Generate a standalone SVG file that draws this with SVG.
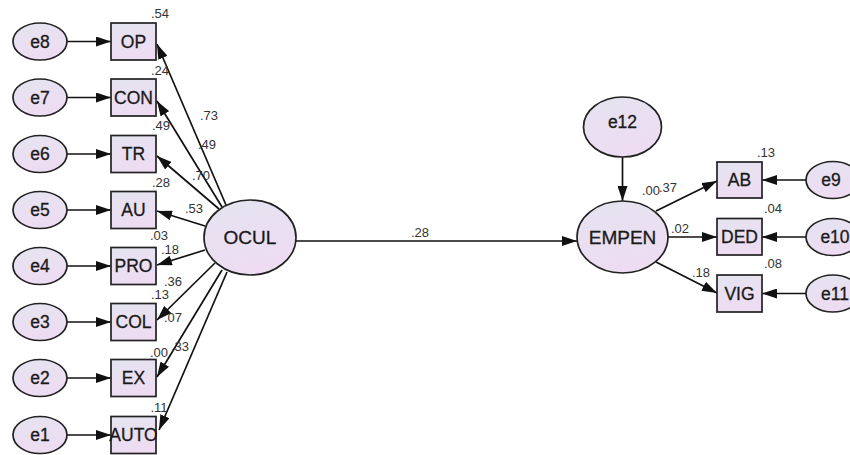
<svg xmlns="http://www.w3.org/2000/svg" width="850" height="455" viewBox="0 0 850 455">
<defs>
<linearGradient id="g" x1="0" y1="0" x2="0.3" y2="1">
<stop offset="0" stop-color="#e4e4f0"/>
<stop offset="1" stop-color="#eedcf2"/>
</linearGradient>
<marker id="ah" markerUnits="userSpaceOnUse" markerWidth="15" markerHeight="10" refX="15" refY="5" orient="auto">
<path d="M0,0 L15,5 L0,10 z" fill="#111"/>
</marker>
<style>
.sh{fill:url(#g);stroke:#222;stroke-width:1.7}
.t{font-family:"Liberation Sans",Arial,sans-serif;font-size:17.5px;fill:#1a1a1a;text-anchor:middle;dominant-baseline:central;stroke:#1a1a1a;stroke-width:0.3}
.big{font-size:19px}
.l{font-family:"Liberation Sans",Arial,sans-serif;font-size:13px;fill:#333;text-anchor:middle;dominant-baseline:central}
.c line{stroke:#111;stroke-width:1.7;marker-end:url(#ah)}
</style>
</defs>
<rect width="850" height="455" fill="#fff"/>
<g class="c" id="connectors">
<line x1="67" y1="41.5" x2="111" y2="41.5"/>
<line x1="67" y1="97.5" x2="111" y2="97.5"/>
<line x1="67" y1="154" x2="111" y2="154"/>
<line x1="67" y1="210" x2="111" y2="210"/>
<line x1="67" y1="266" x2="111" y2="266"/>
<line x1="67" y1="322" x2="111" y2="322"/>
<line x1="67" y1="378" x2="111" y2="378"/>
<line x1="67" y1="435" x2="111" y2="435"/>
<line x1="226" y1="205" x2="157" y2="44"/>
<line x1="222" y1="207" x2="157" y2="101"/>
<line x1="219" y1="209" x2="157" y2="156"/>
<line x1="205" y1="226" x2="157" y2="211"/>
<line x1="205" y1="250" x2="157" y2="265"/>
<line x1="215" y1="263" x2="157" y2="320"/>
<line x1="222" y1="270" x2="157" y2="377"/>
<line x1="227" y1="272" x2="159" y2="430"/>
<line x1="296" y1="241" x2="577" y2="241"/>
<line x1="622.5" y1="157" x2="622.5" y2="201"/>
<line x1="656" y1="211" x2="717" y2="181"/>
<line x1="668" y1="237" x2="717" y2="237"/>
<line x1="656" y1="262" x2="717" y2="293"/>
<line x1="806" y1="180" x2="762" y2="180"/>
<line x1="806" y1="237" x2="762" y2="237"/>
<line x1="806" y1="293.5" x2="762" y2="293.5"/>
</g>
<g id="e8"><ellipse class="sh" cx="40" cy="41.5" rx="27" ry="18.5"/><text class="t" x="40" y="41.5">e8</text></g>
<g id="e7"><ellipse class="sh" cx="40" cy="97.5" rx="27" ry="18.5"/><text class="t" x="40" y="97.5">e7</text></g>
<g id="e6"><ellipse class="sh" cx="40" cy="154" rx="27" ry="18.5"/><text class="t" x="40" y="154">e6</text></g>
<g id="e5"><ellipse class="sh" cx="40" cy="210" rx="27" ry="18.5"/><text class="t" x="40" y="210">e5</text></g>
<g id="e4"><ellipse class="sh" cx="40" cy="266" rx="27" ry="18.5"/><text class="t" x="40" y="266">e4</text></g>
<g id="e3"><ellipse class="sh" cx="40" cy="322" rx="27" ry="18.5"/><text class="t" x="40" y="322">e3</text></g>
<g id="e2"><ellipse class="sh" cx="40" cy="378" rx="27" ry="18.5"/><text class="t" x="40" y="378">e2</text></g>
<g id="e1"><ellipse class="sh" cx="40" cy="435" rx="27" ry="18.5"/><text class="t" x="40" y="435">e1</text></g>
<g id="OP"><rect class="sh" x="111" y="23" width="45" height="37"/><text class="t" x="133.5" y="41.5">OP</text></g>
<g id="CON"><rect class="sh" x="111" y="79" width="45" height="37"/><text class="t" x="133.5" y="97.5">CON</text></g>
<g id="TR"><rect class="sh" x="111" y="135.5" width="45" height="37"/><text class="t" x="133.5" y="154">TR</text></g>
<g id="AU"><rect class="sh" x="111" y="191.5" width="45" height="37"/><text class="t" x="133.5" y="210">AU</text></g>
<g id="PRO"><rect class="sh" x="111" y="247.5" width="45" height="37"/><text class="t" x="133.5" y="266">PRO</text></g>
<g id="COL"><rect class="sh" x="111" y="303.5" width="45" height="37"/><text class="t" x="133.5" y="322">COL</text></g>
<g id="EX"><rect class="sh" x="111" y="359.5" width="45" height="37"/><text class="t" x="133.5" y="378">EX</text></g>
<g id="AUTO"><rect class="sh" x="111" y="416.5" width="45" height="37"/><text class="t" x="133.5" y="435">AUTO</text></g>
<g id="OCUL"><ellipse class="sh" cx="250" cy="237.5" rx="46" ry="37.5"/><text class="t big" x="250" y="237.5">OCUL</text></g>
<g id="EMPEN"><ellipse class="sh" cx="622.5" cy="237" rx="45.5" ry="36"/><text class="t big" x="622.5" y="237">EMPEN</text></g>
<g id="e12"><ellipse class="sh" cx="622.5" cy="127" rx="39" ry="30"/><text class="t" x="622.5" y="122">e12</text></g>
<g id="AB"><rect class="sh" x="717" y="162" width="45" height="36"/><text class="t" x="739.5" y="180">AB</text></g>
<g id="DED"><rect class="sh" x="717" y="218.5" width="45" height="36.5"/><text class="t" x="739.5" y="237">DED</text></g>
<g id="VIG"><rect class="sh" x="717" y="275" width="45" height="37"/><text class="t" x="739.5" y="293.5">VIG</text></g>
<g id="e9"><ellipse class="sh" cx="833" cy="180" rx="27" ry="18.5"/><text class="t" x="831" y="180">e9</text></g>
<g id="e10"><ellipse class="sh" cx="833" cy="237" rx="27" ry="18.5"/><text class="t" x="835" y="237">e10</text></g>
<g id="e11"><ellipse class="sh" cx="833" cy="293.5" rx="27" ry="18.5"/><text class="t" x="835" y="293.5">e11</text></g>
<g id="labels">
<text class="l" x="160" y="13">.54</text>
<text class="l" x="160" y="70">.24</text>
<text class="l" x="209" y="115">.73</text>
<text class="l" x="161" y="125">.49</text>
<text class="l" x="207" y="144">.49</text>
<text class="l" x="201" y="175">.70</text>
<text class="l" x="161" y="182">.28</text>
<text class="l" x="194" y="208">.53</text>
<text class="l" x="159" y="235.5">.03</text>
<text class="l" x="170" y="249">.18</text>
<text class="l" x="173" y="281.5">.36</text>
<text class="l" x="160" y="294.5">.13</text>
<text class="l" x="173" y="317">.07</text>
<text class="l" x="159" y="352">.00</text>
<text class="l" x="180" y="346">.33</text>
<text class="l" x="159" y="407">.11</text>
<text class="l" x="420" y="232">.28</text>
<text class="l" x="766" y="152">.13</text>
<text class="l" x="651" y="190">.00</text>
<text class="l" x="668" y="187">.37</text>
<text class="l" x="773" y="208">.04</text>
<text class="l" x="680" y="228">.02</text>
<text class="l" x="773" y="263">.08</text>
<text class="l" x="701" y="272">.18</text>
</g>
</svg>
